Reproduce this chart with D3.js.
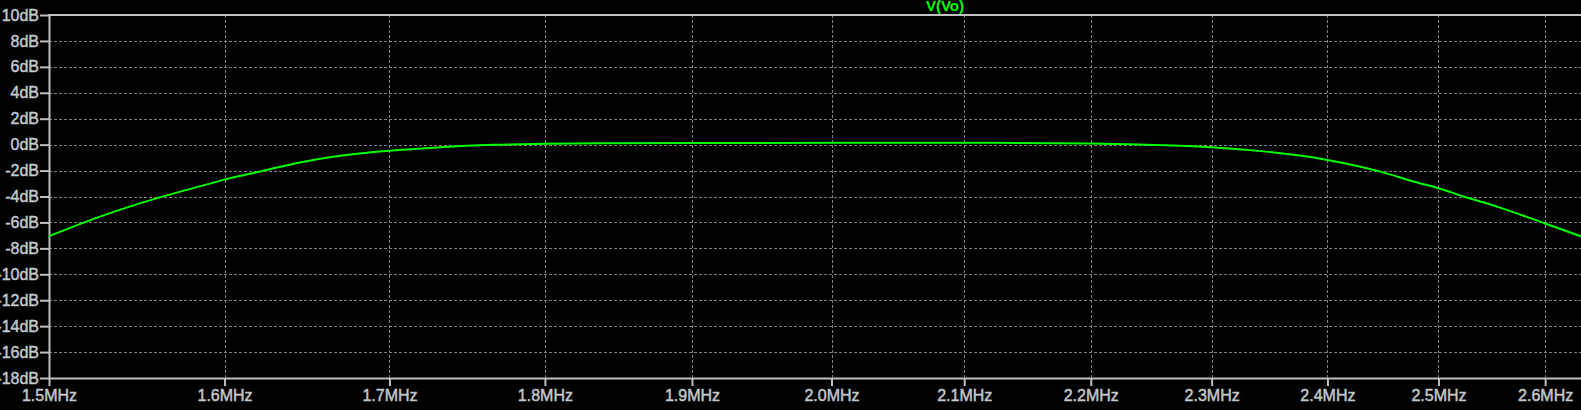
<!DOCTYPE html>
<html>
<head>
<meta charset="utf-8">
<script src="https://cdn.jsdelivr.net/npm/d3@7"></script>
<style>
  html, body { margin: 0; padding: 0; background: #000; overflow: hidden; }
  svg { display: block; }
</style>
</head>
<body>
<svg id="chart" width="1581" height="410"></svg>
<script>
// ---- data ----
const traceName = "V(Vo)";
const freqMHz = [1.500, 1.528, 1.557, 1.586, 1.600, 1.625, 1.645, 1.665, 1.686, 1.700,
                 1.728, 1.749, 1.771, 1.800, 1.837, 1.906, 2.000, 2.100, 2.200, 2.245,
                 2.268, 2.289, 2.300, 2.342, 2.400, 2.448, 2.478, 2.500, 2.524, 2.555,
                 2.600, 2.6355];
const gainDB  = [-7.06, -5.57, -4.28, -3.20, -2.70, -1.96, -1.37, -0.93, -0.62, -0.47,
                 -0.24, -0.08, 0.00, 0.06, 0.10, 0.13, 0.14, 0.14, 0.09, 0.00,
                 -0.07, -0.15, -0.20, -0.50, -1.18, -2.10, -2.86, -3.36, -4.02, -4.80,
                 -6.08, -7.10];
const xTicks = [1.5, 1.6, 1.7, 1.8, 1.9, 2.0, 2.1, 2.2, 2.3, 2.4, 2.5, 2.6];
const yTicks = [10, 8, 6, 4, 2, 0, -2, -4, -6, -8, -10, -12, -14, -16, -18];

(function () {
// ---- layout ----
const svg = d3.select("#chart");
const pLeft = 49, pRight = 1581, pTop = 15, pBottom = 378;
const axisColor = "#c0c0c0", gridColor = "#808080", labelColor = "#c4c8cc", traceColor = "#00ff00";
const font = "'Liberation Sans', Arial, sans-serif";

const x = d3.scaleLog().domain([1.5, 2.6345]).range([pLeft, pRight]);
const y = d3.scaleLinear().domain([-18, 10]).range([pBottom, pTop]);

svg.append("rect").attr("width", 1581).attr("height", 410).attr("fill", "#000");

// grid
const grid = svg.append("g");
grid.selectAll("line.h").data(yTicks.filter(v => v !== 10 && v !== -18)).join("line")
  .attr("x1", pLeft).attr("x2", pRight)
  .attr("y1", d => Math.round(y(d)) + 0.5).attr("y2", d => Math.round(y(d)) + 0.5)
  .attr("stroke", gridColor).attr("stroke-width", 1).attr("stroke-dasharray", "3,2");
grid.selectAll("line.v").data(xTicks.filter(v => v !== 1.5)).join("line")
  .attr("x1", d => Math.round(x(d)) + 0.5).attr("x2", d => Math.round(x(d)) + 0.5)
  .attr("y1", pTop).attr("y2", pBottom)
  .attr("stroke", gridColor).attr("stroke-width", 1).attr("stroke-dasharray", "3,2");

// top border
svg.append("line").attr("x1", pLeft - 1).attr("x2", pRight).attr("y1", pTop).attr("y2", pTop)
  .attr("stroke", axisColor).attr("stroke-width", 2);

// left axis
const yAxis = d3.axisLeft(y).tickValues(yTicks).tickFormat(d => d + "dB")
  .tickSize(9).tickPadding(1).tickSizeOuter(0);
const gy = svg.append("g").attr("transform", `translate(${pLeft},0)`).call(yAxis);

// bottom axis
const xAxis = d3.axisBottom(x).tickValues(xTicks).tickFormat(d => d.toFixed(1) + "MHz")
  .tickSize(8).tickPadding(4).tickSizeOuter(0);
const gx = svg.append("g").attr("transform", `translate(0,${pBottom})`).call(xAxis);

[gx, gy].forEach(g => {
  g.select(".domain").attr("stroke", axisColor).attr("stroke-width", 2);
  g.selectAll(".tick line").attr("stroke", axisColor).attr("stroke-width", 2);
  g.selectAll(".tick text").attr("fill", labelColor)
    .attr("stroke", labelColor).attr("stroke-width", 0.45)
    .style("font-family", font).style("font-size", "16px");
});

// trace
const data = freqMHz.map((f, i) => [f, gainDB[i]]);
const line = d3.line().x(d => x(d[0])).y(d => y(d[1])).curve(d3.curveMonotoneX);
svg.append("path").datum(data).attr("d", line)
  .attr("fill", "none").attr("stroke", traceColor).attr("stroke-width", 2);

// title
svg.append("text").attr("x", 945).attr("y", 11).attr("text-anchor", "middle")
  .attr("fill", traceColor).style("font-family", font).style("font-size", "15px")
  .style("font-weight", "bold").text(traceName);
})();
</script>
</body>
</html>
